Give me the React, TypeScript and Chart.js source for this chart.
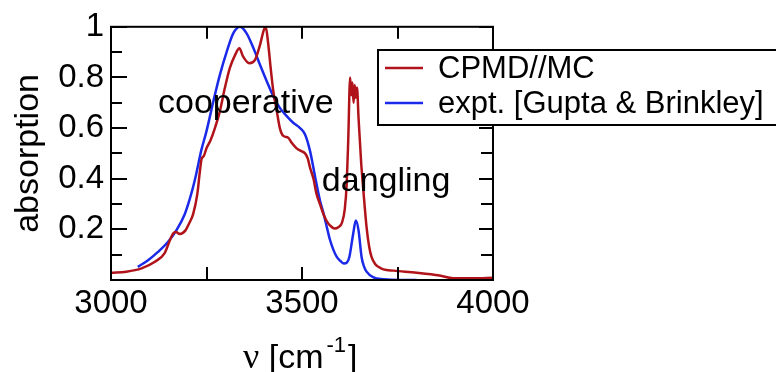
import React, { useEffect, useRef } from "react";
import { Chart, registerables } from "chart.js";

Chart.register(...registerables);

// ---- data ----
const cpmdWavenumbers = [
  3000, 3040, 3080, 3115, 3140, 3155, 3163, 3170, 3180, 3195, 3205, 3215, 3226, 3232, 3237, 3243,
  3250, 3260, 3272, 3285, 3298, 3311, 3325, 3336, 3346, 3362, 3377, 3390, 3400, 3405, 3411, 3418,
  3425, 3434, 3442, 3451, 3464, 3473, 3486, 3497, 3508, 3515, 3521, 3530, 3538, 3547, 3556, 3565,
  3573, 3585, 3595, 3605, 3612, 3617, 3621, 3626, 3629, 3632, 3635, 3638, 3641, 3644, 3648, 3655,
  3660, 3669, 3676, 3682, 3692, 3700, 3713, 3740, 3800, 3860, 3896, 3950, 4000,
];
const cpmdAbsorption = [
  0.029, 0.033, 0.046, 0.072, 0.105, 0.16, 0.185, 0.19, 0.182, 0.196, 0.225, 0.26, 0.34, 0.42, 0.477, 0.49,
  0.52, 0.55, 0.6, 0.667, 0.758, 0.837, 0.889, 0.915, 0.882, 0.856, 0.869, 0.928, 0.987, 1.0, 0.94, 0.837,
  0.745, 0.667, 0.6, 0.569, 0.562, 0.542, 0.52, 0.51, 0.5, 0.48, 0.444, 0.4, 0.34, 0.3, 0.261, 0.232,
  0.216, 0.203, 0.208, 0.228, 0.28, 0.379, 0.55, 0.8, 0.73, 0.78, 0.7, 0.77, 0.72, 0.76, 0.64, 0.46,
  0.366, 0.209, 0.13, 0.091, 0.062, 0.052, 0.042, 0.037, 0.029, 0.018, 0.007, 0.007, 0.009,
];
const exptWavenumbers = [
  3070, 3097, 3123, 3149, 3171, 3193, 3210, 3223, 3236, 3250, 3268, 3285, 3303, 3320, 3338, 3355,
  3373, 3390, 3408, 3425, 3442, 3460, 3477, 3495, 3508, 3521, 3534, 3547, 3556, 3565, 3573, 3582,
  3591, 3600, 3610, 3617, 3624, 3634, 3641, 3648, 3656, 3662, 3669, 3687, 3713, 3757, 3800,
];
const exptAbsorption = [
  0.052, 0.078, 0.111, 0.15, 0.196, 0.26, 0.34, 0.418, 0.51, 0.588, 0.706, 0.81, 0.902, 0.974, 1.0, 0.974,
  0.915, 0.85, 0.784, 0.725, 0.68, 0.647, 0.621, 0.6, 0.575, 0.51, 0.41, 0.314, 0.265, 0.209, 0.16, 0.12,
  0.091, 0.076, 0.065, 0.068, 0.091, 0.183, 0.235, 0.196, 0.091, 0.055, 0.033, 0.01, 0.003, 0, 0,
];
const seriesLabels = ["CPMD//MC", "expt. [Gupta & Brinkley]"];
const seriesColors = ["#b0141a", "#1a2ae8"];

const xTickLabels = [3000, 3500, 4000];
const xMajorTicks = [3250, 3500, 3750];
const yTickLabels = [0.2, 0.4, 0.6, 0.8, 1];
const yMinorTicks = [0.1, 0.3, 0.5, 0.7, 0.9];

const annotationTexts = ["cooperative", "dangling"];
const annotationX = [3123, 3552];
const annotationY = [0.659, 0.353];

const yTitle = "absorption";

const SANS = '"Liberation Sans", Arial, Helvetica, sans-serif';
const SERIF = '"Liberation Serif", "DejaVu Serif", serif';

const framePlugin = {
  id: "xmgraceFrame",
  afterDatasetsDraw(chart: any) {
    const { ctx, chartArea: a, scales } = chart;
    const xs = scales.x;
    const ys = scales.y;
    ctx.save();
    ctx.strokeStyle = "#000";
    ctx.lineWidth = 2;
    ctx.strokeRect(a.left, a.top, a.right - a.left, a.bottom - a.top);
    ctx.beginPath();
    for (const v of xMajorTicks) {
      const px = Math.round(xs.getPixelForValue(v));
      ctx.moveTo(px, a.bottom);
      ctx.lineTo(px, a.bottom - 13);
      ctx.moveTo(px, a.top);
      ctx.lineTo(px, a.top + 12);
    }
    for (const v of yTickLabels) {
      const py = Math.round(ys.getPixelForValue(v));
      ctx.moveTo(a.left, py);
      ctx.lineTo(a.left + 16, py);
      ctx.moveTo(a.right, py);
      ctx.lineTo(a.right - 14, py);
    }
    for (const v of yMinorTicks) {
      const py = Math.round(ys.getPixelForValue(v));
      ctx.moveTo(a.left, py);
      ctx.lineTo(a.left + 11, py);
      ctx.moveTo(a.right, py);
      ctx.lineTo(a.right - 12, py);
    }
    ctx.stroke();

    // annotations
    ctx.fillStyle = "#000";
    ctx.font = `34px ${SANS}`;
    ctx.textBaseline = "alphabetic";
    ctx.textAlign = "left";
    annotationTexts.forEach((t, i) => {
      ctx.fillText(t, xs.getPixelForValue(annotationX[i]), ys.getPixelForValue(annotationY[i]));
    });
    ctx.restore();
  },
  afterDraw(chart: any) {
    const { ctx, chartArea: a } = chart;
    ctx.save();
    // legend box
    const bx = 378, by = 50, bw = 410, bh = 75;
    ctx.fillStyle = "#fff";
    ctx.fillRect(bx, by, bw, bh);
    ctx.strokeStyle = "#000";
    ctx.lineWidth = 2;
    ctx.strokeRect(bx, by, bw, bh);
    const rows = [68, 103];
    chart.data.datasets.forEach((ds: any, i: number) => {
      ctx.strokeStyle = ds.borderColor;
      ctx.lineWidth = 2.5;
      ctx.beginPath();
      ctx.moveTo(385, rows[i]);
      ctx.lineTo(423, rows[i]);
      ctx.stroke();
      ctx.fillStyle = "#000";
      ctx.font = `31px ${SANS}`;
      ctx.textBaseline = "middle";
      ctx.textAlign = "left";
      ctx.fillText(ds.label, 438, rows[i] + 1);
    });

    // y title
    ctx.save();
    ctx.translate(38, (a.top + a.bottom) / 2);
    ctx.rotate(-Math.PI / 2);
    ctx.font = `34px ${SANS}`;
    ctx.textAlign = "center";
    ctx.textBaseline = "alphabetic";
    ctx.fillStyle = "#000";
    ctx.fillText(yTitle, 0, 0);
    ctx.restore();

    // x title: ν [cm^-1]
    ctx.fillStyle = "#000";
    ctx.textAlign = "left";
    ctx.textBaseline = "alphabetic";
    let x = 243;
    const base = 368;
    ctx.font = `36px ${SERIF}`;
    ctx.fillText("ν", x, base);
    x += ctx.measureText("ν").width;
    ctx.font = `34px ${SANS}`;
    ctx.fillText(" [cm", x, base);
    x += ctx.measureText(" [cm").width + 3;
    ctx.font = `22px ${SANS}`;
    ctx.fillText("-1", x, 352);
    x += ctx.measureText("-1").width + 2;
    ctx.font = `34px ${SANS}`;
    ctx.fillText("]", x, base);
    ctx.restore();
  },
};

export default function App() {
  const canvasRef = useRef<HTMLCanvasElement | null>(null);

  useEffect(() => {
    const canvas = canvasRef.current;
    if (!canvas) return;
    const toPoints = (xs: number[], ys: number[]) => xs.map((x, i) => ({ x, y: ys[i] }));
    const chart = new Chart(canvas, {
      type: "line",
      data: {
        datasets: [
          {
            label: seriesLabels[0],
            data: toPoints(cpmdWavenumbers, cpmdAbsorption),
            borderColor: seriesColors[0],
            borderWidth: 2.5,
            pointRadius: 0,
            fill: false,
            cubicInterpolationMode: "monotone",
          },
          {
            label: seriesLabels[1],
            data: toPoints(exptWavenumbers, exptAbsorption),
            borderColor: seriesColors[1],
            borderWidth: 2.5,
            pointRadius: 0,
            fill: false,
            cubicInterpolationMode: "monotone",
          },
        ],
      },
      options: {
        animation: false,
        responsive: false,
        maintainAspectRatio: false,
        devicePixelRatio: 1,
        layout: { padding: { left: 0, top: 25, right: 283, bottom: 0 } },
        plugins: { legend: { display: false }, tooltip: { enabled: false } },
        scales: {
          x: {
            type: "linear",
            min: 3000,
            max: 4000,
            afterBuildTicks: (s: any) => {
              s.ticks = xTickLabels.map((v) => ({ value: v }));
            },
            afterFit: (s: any) => {
              s.height = 92;
            },
            ticks: {
              font: { family: SANS, size: 33 },
              color: "#000",
              padding: 4,
              maxRotation: 0,
              autoSkip: false,
              callback: (v: any) => String(v),
            },
            grid: { display: false, drawTicks: false },
            border: { display: false },
          },
          y: {
            type: "linear",
            min: 0,
            max: 1,
            afterBuildTicks: (s: any) => {
              s.ticks = yTickLabels.map((v) => ({ value: v }));
            },
            afterFit: (s: any) => {
              s.width = 111;
            },
            ticks: {
              font: { family: SANS, size: 33 },
              color: "#000",
              padding: 7,
              autoSkip: false,
              callback: (v: any) => String(Number(Number(v).toFixed(1))),
            },
            grid: { display: false, drawTicks: false },
            border: { display: false },
          },
        },
      },
      plugins: [framePlugin],
    } as any);
    return () => chart.destroy();
  }, []);

  return (
    <div style={{ position: "absolute", left: 0, top: 0, width: 776, height: 372, background: "#fff" }}>
      <canvas ref={canvasRef} width={776} height={372} style={{ display: "block" }} />
    </div>
  );
}
